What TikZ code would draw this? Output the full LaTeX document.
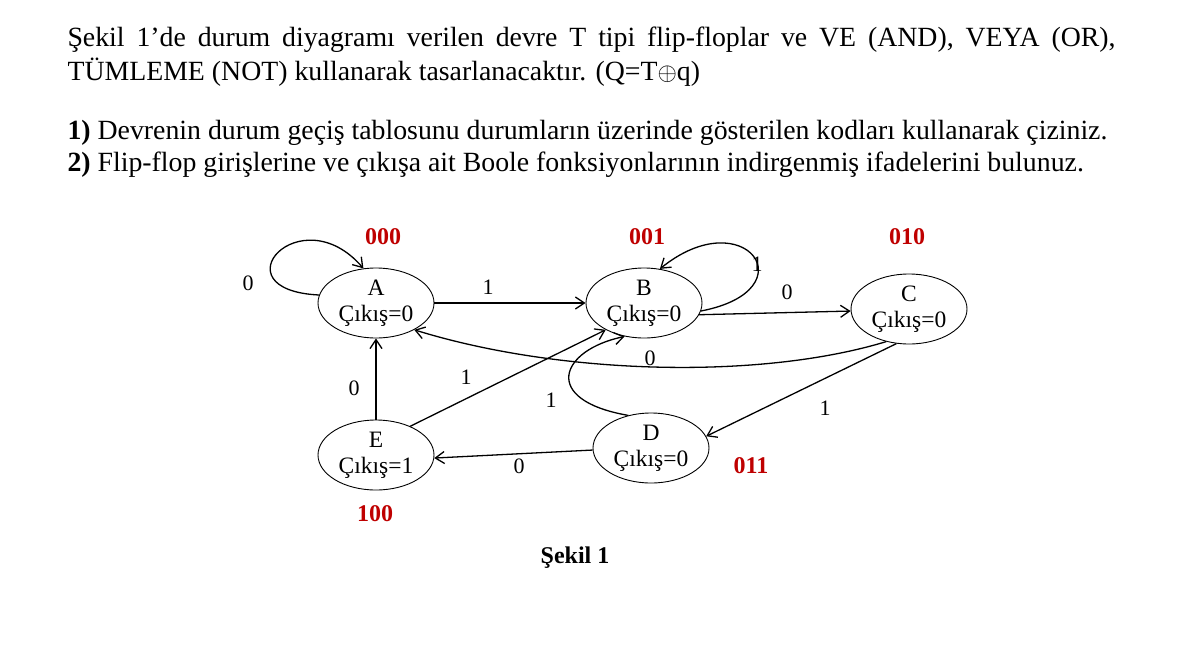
\documentclass[tikz,border=0pt]{standalone}
\usepackage{fontspec}
\setmainfont{Liberation Serif}
\usetikzlibrary{shapes.geometric,arrows.meta}
\begin{document}
\begin{tikzpicture}[x=1pt,y=-1pt,
  st/.style={draw,ellipse,minimum width=116pt,minimum height=70pt,inner sep=0pt,align=center,font=\fontsize{23.5}{26}\selectfont,line width=0.9pt},
  ed/.style={draw,line width=1.3pt,-{Straight Barb[length=9pt,width=12pt,line width=1.3pt]}},
  lb/.style={font=\fontsize{22}{22}\selectfont},
  hd/.style={anchor=west,font=\fontsize{27.8}{28}\selectfont},
  code/.style={text=red!75!black,font=\bfseries\fontsize{24}{24}\selectfont}]
\useasboundingbox (0,0) rectangle (1179,657);
\node[hd] (t1) at (64,40) {\makebox[1048pt][s]{Şekil 1’de durum diyagramı verilen devre T tipi flip-floplar ve VE (AND), VEYA (OR),}};
\node[hd] (t2) at (64,72) {TÜMLEME (NOT) kullanarak tasarlanacaktır. (Q=T$\oplus$q)};
\node[hd] (t3) at (64,133) {\textbf{1)} Devrenin durum geçiş tablosunu durumların üzerinde gösterilen kodları kullanarak çiziniz.};
\node[hd] (t4) at (64,165) {\textbf{2)} Flip-flop girişlerine ve çıkışa ait Boole fonksiyonlarının indirgenmiş ifadelerini bulunuz.};
\node[st] (A) at (376,303) {A\\Çıkış=0};
\node[st] (B) at (644,303) {B\\Çıkış=0};
\node[st] (C) at (909,309) {C\\Çıkış=0};
\node[st] (D) at (651,448) {D\\Çıkış=0};
\node[st] (E) at (376,455) {E\\Çıkış=1};
\node[code] (cA) at (383,237) {000};
\node[code] (cB) at (647,237) {001};
\node[code] (cC) at (907,237) {010};
\node[code] (cD) at (751,466) {011};
\node[code] (cE) at (375,514) {100};
\node[font=\bfseries\fontsize{24}{24}\selectfont] (fig) at (575,558) {Şekil 1};
\draw[ed] (A.172) .. controls (215,290) and (300,195) .. (A.110);
\node[lb] at (248,283) {0};
\draw[ed] (A) -- (B);
\node[lb] at (488,287) {1};
\draw[ed] (B.-8) .. controls (810,290) and (745,200) .. (B.65);
\node[lb] at (757,264) {1};
\draw[ed] (B.-12) -- (C.-178);
\node[lb] at (787,292) {0};
\draw[ed] (C.-125) .. controls (760,380) and (560,375) .. (A.-35);
\node[lb] at (650,358) {0};
\draw[ed] (C.-110) -- (D.12);
\node[lb] at (825,408) {1};
\draw[ed] (D.-178) -- (E.-3);
\node[lb] at (519,466) {0};
\draw[ed] (D.125) .. controls (540,400) and (560,350) .. (B.-120);
\node[lb] at (551,400) {1};
\draw[ed] (E) -- (A);
\node[lb] at (354,388) {0};
\draw[ed] (E.40) -- (B.-145);
\node[lb] at (466,377) {1};
\end{tikzpicture}
\end{document}
